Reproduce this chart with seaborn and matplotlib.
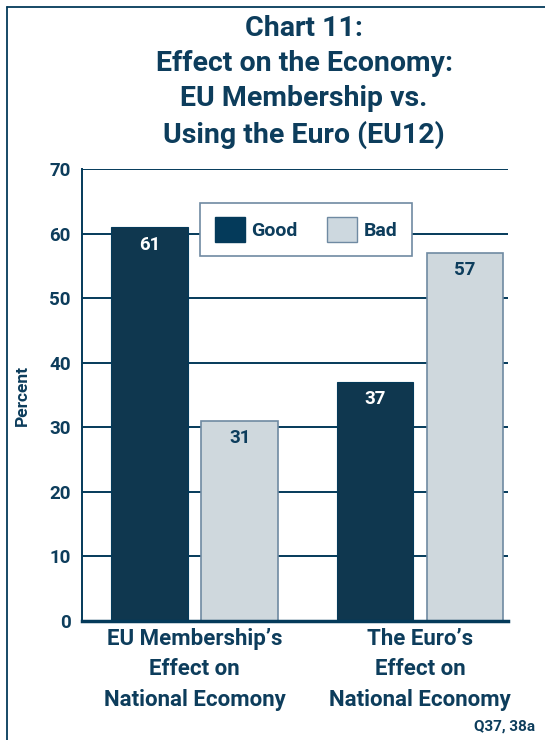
import matplotlib
matplotlib.use("Agg")
import matplotlib.pyplot as plt
import matplotlib.lines as mlines
import seaborn as sns
import pandas as pd

# Survey results (percent)
categories = ["EU Membership\u2019s\nEffect on\nNational Ecomony",
              "The Euro\u2019s\nEffect on\nNational Economy"]
responses = ["Good", "Bad"]
good_values = [61, 37]
bad_values = [31, 57]
y_ticks = [0, 10, 20, 30, 40, 50, 60, 70]

NAVY = "#043a5a"
LIGHT = "#cdd8df"
EDGE = "#6f8aa2"
TEXT = "#0d3d5c"

df = pd.DataFrame({
    "category": categories * 2,
    "response": ["Good"] * len(categories) + ["Bad"] * len(categories),
    "value": good_values + bad_values,
})

sns.set_theme(style="white")
plt.rcParams["font.family"] = ["Roboto", "DejaVu Sans"]

fig = plt.figure(figsize=(5.45, 7.40), dpi=100)
ax = fig.add_axes([82 / 545, 1 - 621 / 740, 426 / 545, 452 / 740])

sns.barplot(data=df, x="category", y="value", hue="response",
            hue_order=responses, palette=[NAVY, LIGHT], gap=0.15,
            width=0.8, ax=ax, zorder=3, legend=False)

for patch, resp in zip(ax.patches, ["Good", "Good", "Bad", "Bad"]):
    if resp == "Bad":
        patch.set_edgecolor(EDGE)
        patch.set_linewidth(1.2)
    else:
        patch.set_edgecolor(NAVY)
        patch.set_linewidth(0.8)

# value labels inside the top of each bar
for container, color in zip(ax.containers, ["white", TEXT]):
    ax.bar_label(container, labels=[f"{v:.0f}" for v in container.datavalues],
                 padding=-19, color=color, fontsize=13.5, fontweight="bold")

ax.set_ylim(0, 70)
ax.set_xlim(-0.5, 1.39)
ax.set_yticks(y_ticks)
ax.set_yticklabels([str(t) for t in y_ticks], fontsize=13.5, fontweight="bold", color=TEXT)
ax.tick_params(axis="both", length=0)
ax.tick_params(axis="y", pad=8)
ax.tick_params(axis="x", pad=5)
for lbl in ax.get_xticklabels():
    lbl.set_fontsize(16)
    lbl.set_fontweight("bold")
    lbl.set_color(TEXT)
    lbl.set_linespacing(1.5)

ax.yaxis.grid(True, color=NAVY, linewidth=1.4, zorder=0)
ax.set_axisbelow(True)
for side in ["top", "right"]:
    ax.spines[side].set_visible(False)
ax.spines["left"].set_color(NAVY)
ax.spines["left"].set_linewidth(1.4)
ax.spines["bottom"].set_color(NAVY)
ax.spines["bottom"].set_linewidth(2.5)
ax.spines["bottom"].set_zorder(5)

ax.set_xlabel("")
ax.set_ylabel("Percent", fontsize=12.5, fontweight="bold", color=TEXT, labelpad=14)

handles = [
    plt.Rectangle((0, 0), 1, 1, facecolor=NAVY, edgecolor=NAVY),
    plt.Rectangle((0, 0), 1, 1, facecolor=LIGHT, edgecolor=EDGE),
]
leg = ax.legend(handles, responses, loc="upper left", bbox_to_anchor=(0.277, 0.925),
                ncol=2, frameon=True, fancybox=False, fontsize=14,
                handlelength=1.55, handleheight=1.55, columnspacing=1.5,
                handletextpad=0.35, borderpad=0.75, borderaxespad=0)
leg.get_frame().set_edgecolor(EDGE)
leg.get_frame().set_linewidth(1.2)
leg.get_frame().set_facecolor("white")
leg.get_frame().set_alpha(1)
leg.set_zorder(6)
for t in leg.get_texts():
    t.set_color(TEXT)
    t.set_fontweight("bold")

fig.text(304 / 545, 1 - 82 / 740,
         "Chart 11:\nEffect on the Economy:\nEU Membership vs.\nUsing the Euro (EU12)",
         ha="center", va="center", fontsize=20.5, fontweight="bold",
         color=TEXT, linespacing=1.38)

fig.text(535 / 545, 1 - 727 / 740, "Q37, 38a", ha="right", va="center",
         fontsize=11, fontweight="bold", color=TEXT)

# page frame along the left and top edges
fig.add_artist(mlines.Line2D([7 / 545, 7 / 545], [0, 1 - 7 / 740],
                             transform=fig.transFigure, color=NAVY, linewidth=1.3))
fig.add_artist(mlines.Line2D([7 / 545, 1], [1 - 7 / 740, 1 - 7 / 740],
                             transform=fig.transFigure, color=NAVY, linewidth=1.3))

fig.savefig("out.png", dpi=100)
